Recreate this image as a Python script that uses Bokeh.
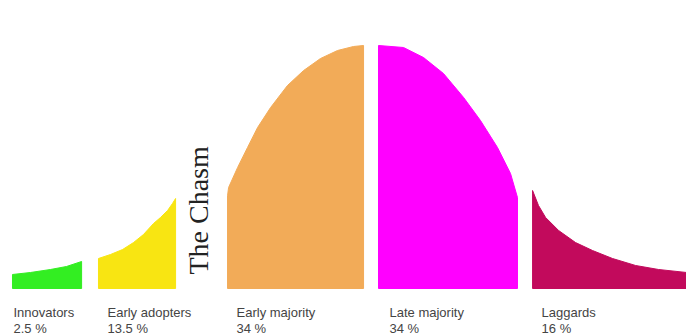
from bokeh.plotting import figure
from bokeh.models import Range1d, ColumnDataSource
from bokeh.core.properties import value
from bokeh.embed import file_html
from bokeh.resources import INLINE
import math

# Adoption segments (x in standard deviations from the mean, y = curve height in % of peak)
segments = ["Innovators", "Early adopters", "Early majority", "Late majority", "Laggards"]
shares = ["2.5 %", "13.5 %", "34 %", "34 %", "16 %"]

innov_x = [-2.426, -2.304, -2.169, -2.061, -1.959]
innov_y = [5.74, 6.56, 7.79, 9.02, 11.07]

adopt_x = [-1.845, -1.764, -1.682, -1.608, -1.541, -1.473, -1.426, -1.378, -1.345, -1.324]
adopt_y = [12.30, 13.93, 15.98, 18.85, 22.13, 26.64, 29.10, 31.97, 34.84, 36.89]

early_x = [-0.973, -0.966, -0.905, -0.838, -0.770, -0.682, -0.568, -0.459, -0.345,
           -0.230, -0.122, -0.054]
early_y = [38.0, 41.39, 49.59, 57.79, 65.98, 74.18, 83.20, 89.34, 94.26,
           97.54, 99.18, 99.59]

late_x = [0.047, 0.216, 0.351, 0.486, 0.622, 0.736, 0.851, 0.939, 0.986]
late_y = [99.59, 98.77, 94.67, 88.11, 78.28, 68.85, 57.79, 47.13, 37.30]

lag_x = [1.088, 1.128, 1.176, 1.264, 1.378, 1.493, 1.628, 1.784, 1.939, 2.128, 2.20]
lag_y = [40.16, 34.02, 29.10, 23.77, 18.85, 15.57, 12.30, 9.43, 7.79, 6.56, 6.20]

colors = ["#33ee22", "#f8e512", "#f2ab58", "#ff00ff", "#c20a5c"]

curves = [(innov_x, innov_y), (adopt_x, adopt_y), (early_x, early_y),
          (late_x, late_y), (lag_x, lag_y)]

xs, ys = [], []
for cx, cy in curves:
    xs.append([cx[0]] + list(cx) + [cx[-1]])
    ys.append([0] + list(cy) + [0])

p = figure(width=686, height=335, output_backend="svg", toolbar_location=None,
           x_range=Range1d(-2.507, 2.128), y_range=Range1d(-19.26, 118.03),
           min_border=0, min_border_left=0, min_border_right=0,
           min_border_top=0, min_border_bottom=0)
p.axis.visible = False
p.grid.visible = False
p.outline_line_color = None
p.background_fill_color = "white"
p.border_fill_color = "white"

p.patches(xs=xs, ys=ys, fill_color=colors, line_color=colors, line_width=1,
          line_join="round")

label_src = ColumnDataSource(dict(
    x=[c[0][0] for c in curves],
    y=[0] * len(curves),
    name=segments,
    share=shares,
    xo=[1, 9, 9, 11, 9],
))
p.text(x="x", y="y", text="name", source=label_src, x_offset="xo", y_offset=24,
       text_font=value("Liberation Sans"), text_font_size="13px",
       text_color="#444444", text_baseline="alphabetic", text_align="left")
p.text(x="x", y="y", text="share", source=label_src, x_offset="xo", y_offset=40,
       text_font=value("Liberation Sans"), text_font_size="13px",
       text_color="#444444", text_baseline="alphabetic", text_align="left")

chasm_x = (adopt_x[-1] + early_x[0]) / 2
p.text(x=[chasm_x], y=[32], text=["The Chasm"], angle=math.pi / 2,
       text_font=value("Liberation Serif"), text_font_size="28px",
       text_color="#222222", text_align="center", text_baseline="middle",
       x_offset=-3)

open("out.html", "w").write(file_html(p, INLINE))
